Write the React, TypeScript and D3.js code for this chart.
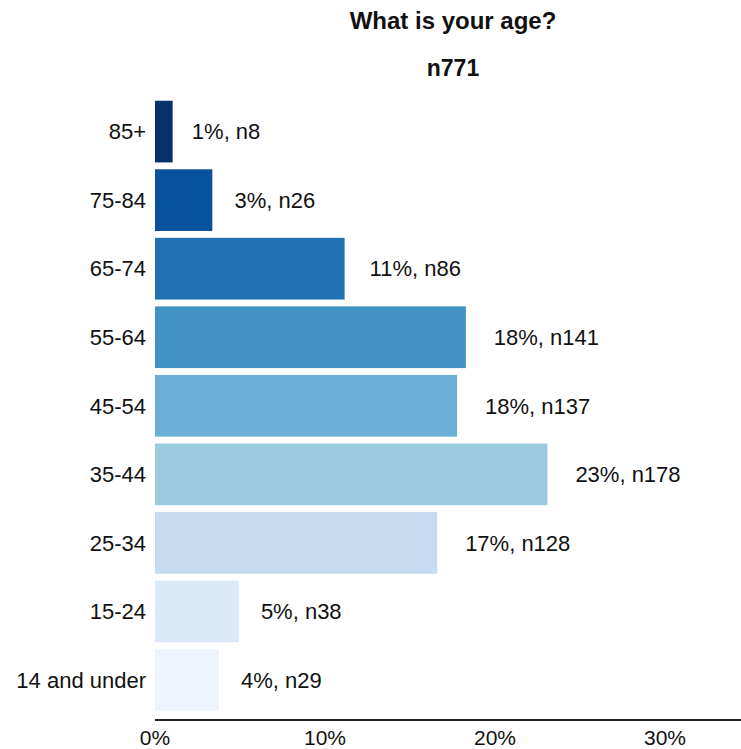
import React from "react";
import * as d3 from "d3";

const categories = ["85+", "75-84", "65-74", "55-64", "45-54", "35-44", "25-34", "15-24", "14 and under"];
const counts = [8, 26, 86, 141, 137, 178, 128, 38, 29];
const total = 771;
const xTicks = [0, 10, 20, 30];
const title = "What is your age?";
const subtitle = "n771";

const palette = ["#08306b", "#08519c", "#2171b5", "#4292c6", "#6baed6", "#9ecae1", "#c6dbef", "#dce9f6", "#edf4fd"];

const W = 741;
const H = 749;
const FONT = "'Liberation Sans', Arial, Helvetica, sans-serif";

export default function App() {
  const x = d3.scaleLinear().domain([0, 586 / 17]).range([155, 741]);
  const y = d3.scaleBand<string>().domain(categories).range([97.3, 714.3]).paddingInner(0.1).paddingOuter(0.05);
  const pct = counts.map((c) => (c / total) * 100);

  return (
    <svg width={W} height={H} style={{ position: "absolute", left: 0, top: 0, background: "#fff" }} fontFamily={FONT}>
      <rect x={0} y={0} width={W} height={H} fill="#fff" />
      <text x={453} y={29} textAnchor="middle" fontSize={24} fontWeight="bold" fill="#111">{title}</text>
      <text x={453} y={76} textAnchor="middle" fontSize={23} fontWeight="bold" fill="#111">{subtitle}</text>
      {categories.map((cat, i) => {
        const yy = y(cat)!;
        const bw = y.bandwidth();
        const label = `${Math.round(pct[i])}%, n${counts[i]}`;
        const off = 2.9 * label.length + 1.8;
        return (
          <g key={cat}>
            <rect x={x(0)} y={yy} width={x(pct[i]) - x(0)} height={bw} fill={palette[i]} />
            <text x={146} y={yy + bw / 2} dy="0.35em" textAnchor="end" fontSize={22} fill="#111">{cat}</text>
            <text x={x(pct[i]) + off} y={yy + bw / 2} dy="0.35em" textAnchor="start" fontSize={22} fill="#111">{label}</text>
          </g>
        );
      })}
      <line x1={x(0)} x2={741} y1={720} y2={720} stroke="#222" strokeWidth={2} />
      {xTicks.map((t) => (
        <text key={t} x={x(t)} y={745} textAnchor="middle" fontSize={21} fill="#111">{`${t}%`}</text>
      ))}
    </svg>
  );
}
